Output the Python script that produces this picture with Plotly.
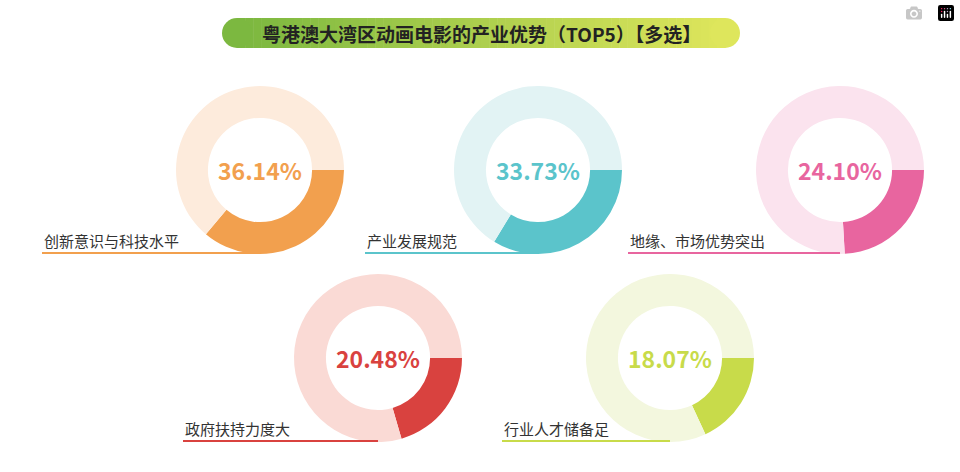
import plotly.graph_objects as go

labels = ['创新意识与科技水平', '产业发展规范', '地缘、市场优势突出', '政府扶持力度大', '行业人才储备足']
values = [36.14, 33.73, 24.10, 20.48, 18.07]
colors = ['#F2A04E', '#5BC4CB', '#E8659F', '#D9423F', '#C8DB4A']
light = ['#FDEBDC', '#E2F3F4', '#FBE3EE', '#FADAD5', '#F3F7DE']

W, H = 960, 472
centers = [(260, 170), (538, 170), (840, 170), (378, 358), (670, 358)]
label_x = [42, 365, 628, 183, 502]
R = 84

fig = go.Figure()
shapes = []
annotations = []
for i, (cx, cy) in enumerate(centers):
    fig.add_trace(go.Pie(
        values=[values[i], 100 - values[i]], hole=0.62, sort=False,
        direction='clockwise', rotation=90,
        marker=dict(colors=[colors[i], light[i]], line=dict(width=0)),
        textinfo='none', hoverinfo='skip', showlegend=False,
        domain=dict(x=[(cx - R) / W, (cx + R) / W],
                    y=[1 - (cy + R) / H, 1 - (cy - R) / H])))
    annotations.append(dict(x=cx / W, y=1 - cy / H, xref='paper', yref='paper',
                            xanchor='center', yanchor='middle',
                            text=f'<b>{values[i]:.2f}%</b>', showarrow=False,
                            font=dict(size=23, color=colors[i], family='Noto Sans CJK SC')))
    ly = cy + 70
    annotations.append(dict(x=label_x[i] / W, y=1 - ly / H, xref='paper', yref='paper',
                            text=labels[i], showarrow=False, xanchor='left', yanchor='middle',
                            font=dict(size=15, color='#333333', family='Noto Sans CJK SC')))
    shapes.append(dict(type='line', xref='paper', yref='paper',
                       x0=label_x[i] / W, x1=cx / W, y0=1 - (cy + 83) / H, y1=1 - (cy + 83) / H,
                       line=dict(color=colors[i], width=2)))

# title bar with a green-to-yellow gradient
x0, x1, y0, y1 = 222, 740, 18, 48
n = 60
c0, c1 = (124, 184, 64), (222, 230, 92)
for k in range(n):
    t = k / (n - 1)
    col = 'rgb(%d,%d,%d)' % tuple(int(a + (b - a) * t) for a, b in zip(c0, c1))
    xa = x0 + 15 + (x1 - x0 - 30) * k / n
    xb = x0 + 15 + (x1 - x0 - 30) * (k + 1) / n + 0.5
    shapes.append(dict(type='rect', xref='paper', yref='paper', x0=xa / W, x1=xb / W,
                       y0=1 - y1 / H, y1=1 - y0 / H, fillcolor=col, line=dict(width=0), layer='below'))
shapes.append(dict(type='circle', xref='paper', yref='paper', x0=x0 / W, x1=(x0 + 30) / W,
                   y0=1 - y1 / H, y1=1 - y0 / H, fillcolor='rgb(124,184,64)', line=dict(width=0), layer='below'))
shapes.append(dict(type='circle', xref='paper', yref='paper', x0=(x1 - 30) / W, x1=x1 / W,
                   y0=1 - y1 / H, y1=1 - y0 / H, fillcolor='rgb(222,230,92)', line=dict(width=0), layer='below'))
annotations.append(dict(x=481 / W, y=1 - 33 / H, xref='paper', yref='paper',
                        xanchor='center', yanchor='middle',
                        text='<b>粤港澳大湾区动画电影的产业优势（TOP5）【多选】</b>', showarrow=False,
                        font=dict(size=19, color='#222222', family='Noto Sans CJK SC')))

fig.update_layout(width=W, height=H, margin=dict(l=0, r=0, t=0, b=0),
                  paper_bgcolor='white', plot_bgcolor='white',
                  shapes=shapes, annotations=annotations)
fig.write_html("out.html", post_script="document.body.style.margin='0';")
